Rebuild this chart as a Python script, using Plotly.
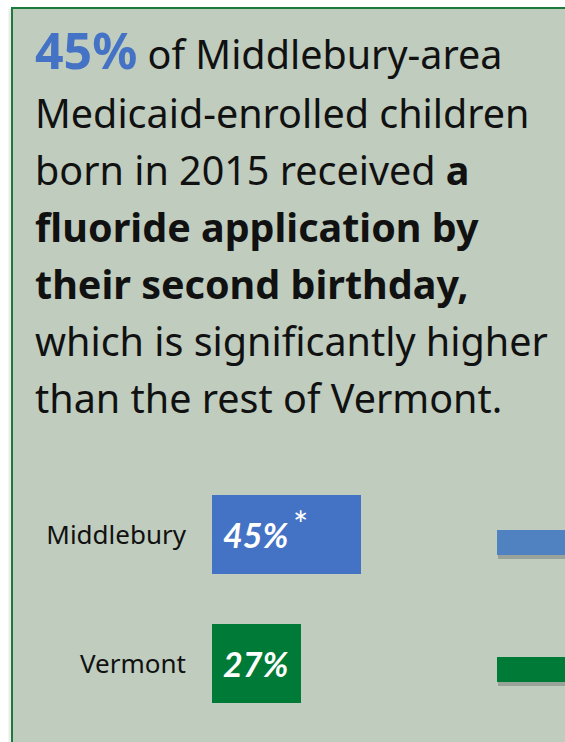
import plotly.graph_objects as go

# data
regions = ["Middlebury", "Vermont"]
pct = [45, 27]
bar_labels = ["45%", "27%"]
bar_marks = ["*", ""]
bar_colors = ["#4472c4", "#007a37"]
# bars of the neighbouring chart, cut off at the right edge
right_vals = [45, 27]
right_colors = ["#5081c0", "#007a37"]

W, H = 565, 742
BODY_FONT = "Noto Sans"


def py(px):
    return 1 - px / H


headline = [
    ("<b><span style='font-size:50px;color:#4472c4'>45%</span></b> of Middlebury-area", 50),
    ("Medicaid-enrolled children", 113),
    ("born in 2015 received <b>a</b>", 170),
    ("<b>fluoride application by</b>", 227),
    ("<b>their second birthday,</b>", 284),
    ("which is significantly higher", 341),
    ("than the rest of Vermont.", 398),
]

fig = go.Figure()

# shadow of the cut-off bars (drawn on the lower subplot so it sits underneath)
fig.add_trace(go.Bar(
    y=regions, x=right_vals, orientation='h', xaxis='x2', yaxis='y2',
    marker=dict(color='rgba(70,70,70,0.3)', line_width=0), width=0.197,
    hoverinfo='skip', showlegend=False,
))
fig.add_trace(go.Bar(
    y=regions, x=right_vals, orientation='h', xaxis='x3', yaxis='y3',
    marker=dict(color=right_colors, line_width=0), width=0.197,
    hoverinfo='skip', showlegend=False,
))
fig.add_trace(go.Bar(
    y=regions, x=pct, orientation='h',
    marker=dict(color=bar_colors, line_width=0), width=0.612,
    showlegend=False,
))

ann = []
for txt, ypx in headline:
    ann.append(dict(
        x=33 / W, y=py(ypx), xref='paper', yref='paper', xanchor='left', yanchor='middle',
        text=txt, showarrow=False, font=dict(family=BODY_FONT, size=39.5, color='#111111'),
    ))
for r, lab, mk in zip(regions, bar_labels, bar_marks):
    ann.append(dict(
        x=0, y=r, xref='x', yref='y', xanchor='left', yanchor='middle', xshift=9,
        text=f"<b><i>{lab}</i></b>", showarrow=False,
        font=dict(family='Lato', size=34, color='white'),
    ))
    if mk:
        # significance marker, raised after the value
        ann.append(dict(
            x=0, y=r, xref='x', yref='y', xanchor='center', yanchor='middle',
            xshift=88, yshift=11, text=mk, showarrow=False,
            font=dict(family='Lato', size=36, color='white'),
        ))

fig.update_layout(
    width=W, height=H,
    margin=dict(l=0, r=0, t=0, b=0),
    paper_bgcolor='white', plot_bgcolor='rgba(0,0,0,0)',
    bargap=0,
    shapes=[
        dict(type='line', xref='paper', yref='paper', x0=10 / W, x1=10 / W, y0=-0.1, y1=py(9),
             line=dict(color='rgba(0,0,0,0.08)', width=3), layer='below'),
        dict(type='rect', xref='paper', yref='paper', x0=12 / W, x1=1.2, y0=-0.2, y1=py(8),
             fillcolor='#bfccbe', line=dict(color='#1b7c3a', width=2), layer='below'),
    ],
    xaxis=dict(domain=[212 / W, 1], range=[0, 106.6], visible=False, fixedrange=True),
    yaxis=dict(domain=[py(728), py(470)], range=[1.5, -0.5], showgrid=False, zeroline=False,
               showline=False, ticks='', ticklabelstandoff=25,
               tickfont=dict(family=BODY_FONT, size=26, color='#111111')),
    xaxis2=dict(domain=[498 / W, 1], range=[0, 20], visible=False, anchor='y2'),
    yaxis2=dict(domain=[py(737), py(483)], range=[1.5, -0.5], visible=False, anchor='x2'),
    xaxis3=dict(domain=[497 / W, 1], range=[0, 20], visible=False, anchor='y3'),
    yaxis3=dict(domain=[py(733), py(479)], range=[1.5, -0.5], visible=False, anchor='x3'),
    annotations=ann,
)

fig.write_html("out.html", config={'displayModeBar': False},
               post_script="document.body.style.margin='0';document.body.style.overflow='hidden';")
